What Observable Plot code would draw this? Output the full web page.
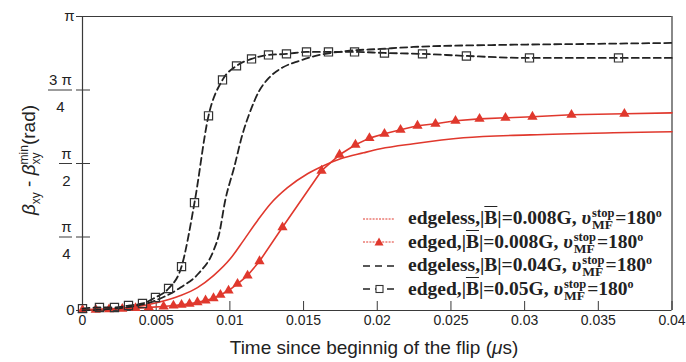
<!DOCTYPE html>
<html><head><meta charset="utf-8">
<script src="https://cdn.jsdelivr.net/npm/d3@7"></script>
<script src="https://cdn.jsdelivr.net/npm/@observablehq/plot@0.6"></script>
<style>
body{margin:0;background:#fff;}
#wrap{position:relative;width:686px;height:362px;overflow:hidden;}
.xt{position:absolute;left:374px;top:337px;transform:translateX(-50%);font:19px 'Liberation Sans',Arial,sans-serif;color:#222;white-space:nowrap;}
.yt{position:absolute;left:30px;top:160px;transform:translate(-50%,-50%) rotate(-90deg);font:19px 'Liberation Sans',Arial,sans-serif;color:#222;white-space:nowrap;}
.yt .ss{display:inline-block;vertical-align:-5px;line-height:12px;font-size:12px;}
.yt .ss span{display:block;}
.leg{position:absolute;left:362px;top:207px;font:bold 19.5px 'Liberation Serif','Times New Roman',serif;color:#222;}
.row{display:flex;align-items:center;height:23.5px;white-space:nowrap;}
.row svg{flex:none;margin-right:11px;}
.ov{text-decoration:overline;}
.lg .ss{display:inline-block;vertical-align:-5px;line-height:12px;margin:0 1px;}
.lg .ss span{display:block;}
.lg .ss .u{font-size:12.5px;}
.lg .ss .d{font-size:13.5px;}
.deg{font-size:12px;vertical-align:7px;}
</style></head><body>
<div id="wrap"></div>
<script>
// ---------- data ----------
const xTicks = [0, 0.005, 0.01, 0.015, 0.02, 0.025, 0.03, 0.035, 0.04];
const yTickValues = [0, Math.PI / 4, Math.PI / 2, 3 * Math.PI / 4, Math.PI];
const yTickLabels = ["0", "π\n4", "π\n2", "3 π\n4", "π"];

// edgeless, |B|=0.008G (red solid)
const redEdgelessT = [0, 0.00326, 0.00509, 0.00665, 0.0078, 0.00889, 0.01004, 0.01092, 0.01187, 0.01276, 0.01391, 0.01527, 0.01635, 0.01751, 0.01907, 0.02022, 0.02246, 0.02585, 0.0304, 0.03603, 0.04];
const redEdgelessV = [0.01, 0.032, 0.085, 0.16, 0.245, 0.373, 0.555, 0.747, 0.96, 1.141, 1.312, 1.461, 1.547, 1.621, 1.685, 1.728, 1.782, 1.846, 1.877, 1.899, 1.91];

// edged, |B|=0.008G (red with triangles)
const redEdgedT = [0, 0.0009, 0.0018, 0.0027, 0.0036, 0.0045, 0.0055, 0.00617, 0.00672, 0.00726, 0.0078, 0.00835, 0.00889, 0.00936, 0.00991, 0.01052, 0.0112, 0.01201, 0.01357, 0.01622, 0.01744, 0.01852, 0.01947, 0.02049, 0.02158, 0.02273, 0.02395, 0.02531, 0.02694, 0.0287, 0.03053, 0.03318, 0.03677];
const redEdgedV = [0.005, 0.008, 0.012, 0.018, 0.025, 0.033, 0.043, 0.053, 0.06, 0.071, 0.089, 0.107, 0.131, 0.167, 0.213, 0.285, 0.373, 0.526, 0.889, 1.494, 1.664, 1.771, 1.842, 1.888, 1.931, 1.974, 1.995, 2.027, 2.048, 2.059, 2.07, 2.091, 2.102];
const redEdgedEnd = [0.04, 2.112];

// edgeless, |B|=0.04G (black dashed)
const blackEdgelessT = [0, 0.00326, 0.00495, 0.00665, 0.00787, 0.00889, 0.00927, 0.00968, 0.01029, 0.01086, 0.01131, 0.01199, 0.01267, 0.01357, 0.0147, 0.01581, 0.01798, 0.02022, 0.02246, 0.02836, 0.03399, 0.04];
const blackEdgelessV = [0.0, 0.04, 0.107, 0.245, 0.395, 0.64, 0.818, 1.173, 1.529, 1.885, 2.098, 2.347, 2.489, 2.596, 2.667, 2.72, 2.774, 2.795, 2.816, 2.838, 2.848, 2.859];

// edged, |B|=0.05G (black dashed with squares)
const blackEdgedT = [0, 0.00115, 0.00217, 0.00312, 0.00407, 0.00495, 0.00584, 0.00672, 0.0076, 0.00855, 0.0095, 0.01045, 0.01147, 0.01262, 0.01384, 0.0152, 0.01669, 0.01846, 0.02049, 0.02307, 0.02605, 0.03033, 0.03637];
const blackEdgedV = [0.02, 0.032, 0.032, 0.053, 0.075, 0.139, 0.235, 0.469, 1.152, 2.08, 2.464, 2.614, 2.688, 2.731, 2.742, 2.763, 2.763, 2.763, 2.752, 2.742, 2.72, 2.699, 2.699];
const blackEdgedEnd = [0.04, 2.699];

// ---------- build ----------
const zip = (T, V) => T.map((t, i) => ({t, v: V[i]}));
const redEdgeless = zip(redEdgelessT, redEdgelessV);
const redEdgedPts = zip(redEdgedT, redEdgedV);
const redEdgedLine = [...redEdgedPts, {t: redEdgedEnd[0], v: redEdgedEnd[1]}];
const blackEdgeless = zip(blackEdgelessT, blackEdgelessV);
const blackEdgedPts = zip(blackEdgedT, blackEdgedV);
const blackEdgedLine = [...blackEdgedPts, {t: blackEdgedEnd[0], v: blackEdgedEnd[1]}];
const yTicks = yTickValues.map((v, i) => ({v, label: yTickLabels[i]}));

const W = 686, H = 362, mL = 82, mR = 14.5, mT = 16, mB = 52;
const innerW = W - mL - mR, innerH = H - mT - mB;
const RED = "#e0382d", BLK = "#222", AX = "#3a3a3a";

const plot = Plot.plot({
  width: W, height: H,
  marginLeft: mL, marginRight: mR, marginTop: mT, marginBottom: mB,
  style: {fontFamily: "'Liberation Sans', Arial, sans-serif", background: "white", color: "#222", overflow: "visible"},
  x: {domain: [0, 0.04]},
  y: {domain: [0, Math.PI], axis: null},
  marks: [
    Plot.ruleY([Math.PI], {stroke: AX, strokeWidth: 1.2, insetLeft: -6}),
    Plot.ruleX([0.04], {stroke: AX, strokeWidth: 1.2}),
    Plot.ruleX([0], {stroke: AX, strokeWidth: 1.2}),
    Plot.ruleY([0], {stroke: AX, strokeWidth: 1.2}),
    Plot.tickX(xTicks, {x: d => d, stroke: AX, insetTop: innerH - 9}),
    Plot.tickY(yTicks, {y: "v", stroke: AX, insetLeft: -6, insetRight: innerW - 8}),
    Plot.tickY(yTicks.filter(d => d.label === "3 π\n4"), {y: "v", stroke: AX, insetLeft: -34, insetRight: innerW + 10}),
    Plot.tickY(yTicks.filter(d => d.label === "π\n2" || d.label === "π\n4"), {y: "v", stroke: AX, insetLeft: -23, insetRight: innerW + 10}),
    Plot.axisX({ticks: xTicks, tickSize: 0, tickPadding: 5, fontSize: 14, tickFormat: d => String(d), label: null}),
    Plot.text(yTicks.filter(d => !d.label.includes("\n")), {y: "v", text: "label", frameAnchor: "left", textAnchor: "end", dx: -8, fontSize: 15}),
    Plot.text(yTicks.filter(d => d.label === "3 π\n4"), {y: "v", text: "label", frameAnchor: "left", textAnchor: "middle", dx: -22, fontSize: 15, lineHeight: 1.8}),
    Plot.text(yTicks.filter(d => d.label === "π\n2" || d.label === "π\n4"), {y: "v", text: "label", frameAnchor: "left", textAnchor: "middle", dx: -16, fontSize: 15, lineHeight: 1.8}),
    Plot.line(redEdgeless, {x: "t", y: "v", stroke: RED, strokeWidth: 1.6, curve: "monotone-x"}),
    Plot.line(redEdgedLine, {x: "t", y: "v", stroke: RED, strokeWidth: 1.6}),
    Plot.dot(redEdgedPts, {x: "t", y: "v", symbol: "triangle", r: 3.8, fill: RED, stroke: "none"}),
    Plot.line(blackEdgeless, {x: "t", y: "v", stroke: BLK, strokeWidth: 1.8, strokeDasharray: "7,4", curve: "monotone-x"}),
    Plot.line(blackEdgedLine, {x: "t", y: "v", stroke: BLK, strokeWidth: 1.8, strokeDasharray: "7,4", curve: "monotone-x"}),
    Plot.dot(blackEdgedPts, {x: "t", y: "v", symbol: "square", r: 4.6, fill: "none", stroke: "#333", strokeWidth: 1.2})
  ]
});

const wrap = document.getElementById("wrap");
wrap.appendChild(plot);

const xt = document.createElement("div");
xt.className = "xt";
xt.innerHTML = "Time since beginnig of the flip (<i>μ</i>s)";
wrap.appendChild(xt);

const yt = document.createElement("div");
yt.className = "yt";
yt.innerHTML = "<i>β</i><span class='ss'><span>&nbsp;</span><span>xy</span></span> - <i>β</i><span class='ss'><span>min</span><span>xy</span></span>(rad)";
wrap.appendChild(yt);

// legend
const legendLabels = [
  "edgeless,|<span class='ov'>B</span>|=0.008G, ",
  "edged,|<span class='ov'>B</span>|=0.008G, ",
  "edgeless,|B|=0.04G, ",
  "edged,|<span class='ov'>B</span>|=0.05G, "
];
const legendSamples = [
  `<line x1="1" x2="33" y1="8" y2="8" stroke="${RED}" stroke-width="1" stroke-dasharray="2,1.2"/>`,
  `<line x1="1" x2="33" y1="8" y2="8" stroke="${RED}" stroke-width="1" stroke-dasharray="2,1.2"/><path d="M17,3.5L21.5,11.5L12.5,11.5Z" fill="${RED}"/>`,
  `<line x1="1" x2="34" y1="8" y2="8" stroke="${BLK}" stroke-width="1.5" stroke-dasharray="7,5"/>`,
  `<line x1="1" x2="34" y1="8" y2="8" stroke="${BLK}" stroke-width="1.5" stroke-dasharray="7,5"/><rect x="14" y="4.5" width="7" height="7" fill="white" stroke="#333" stroke-width="1.1"/>`
];
const leg = document.createElement("div");
leg.className = "leg lg";
leg.innerHTML = legendLabels.map((l, i) =>
  `<div class="row"><svg width="35" height="16">${legendSamples[i]}</svg><span>${l}<i>υ</i><span class="ss"><span class="u">stop</span><span class="d">MF</span></span>=180<span class="deg">o</span></span></div>`
).join("");
wrap.appendChild(leg);
</script>
</body></html>
